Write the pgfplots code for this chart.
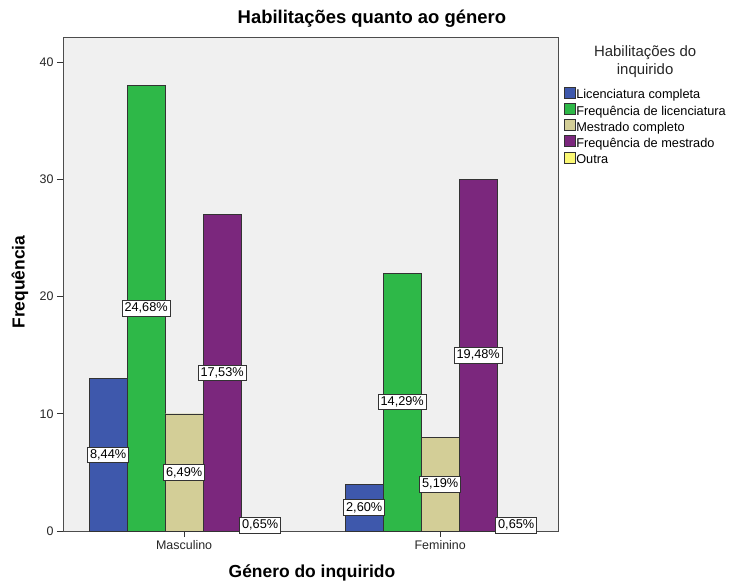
\documentclass[border=0pt]{standalone}
\usepackage{fontspec}
\setmainfont{Liberation Sans}
\usepackage{pgfplots}
\pgfplotsset{compat=1.18}
\definecolor{cBlue}{HTML}{3E58AC}
\definecolor{cGreen}{HTML}{2EB848}
\definecolor{cTan}{HTML}{D3CE97}
\definecolor{cPurple}{HTML}{7B277D}
\definecolor{cYellow}{HTML}{FBF873}
\definecolor{cBg}{HTML}{F0F0F0}
\begin{document}
\begin{tikzpicture}
\begin{axis}[
  at={(0,0)}, anchor=south west,
  scale only axis, width=495bp, height=494bp,
  xmin=-0.473, xmax=1.46, ymin=0, ymax=42.13,
  clip=false,
  ybar=0pt, bar width=38bp,
  axis background/.style={fill=cBg},
  axis line style={draw=black!70},
  tick align=outside, major tick length=6bp,
  xtick pos=bottom, ytick pos=left,
  xtick={0,1}, xticklabels={Masculino,Feminino},
  ytick={0,10,20,30,40},
  tick style={black!80, line width=0.6pt},
  ticklabel style={font=\fontsize{12.5}{14}\selectfont, text=black!85},
  /pgf/number format/assume math mode=true,
  title={Habilitações quanto ao género},
  title style={at={(axis description cs:0.624,1)}, anchor=south, yshift=0bp, font=\bfseries\fontsize{18.5}{21}\selectfont},
  xlabel={Género do inquirido},
  xlabel style={at={(axis description cs:0.503,0)}, anchor=base, yshift=-46bp, font=\bfseries\fontsize{17.5}{20}\selectfont},
  ylabel={Frequência},
  ylabel style={at={(axis description cs:0,0.504)}, anchor=center, yshift=43bp, font=\bfseries\fontsize{17.5}{20}\selectfont},
  point meta=explicit symbolic,
  visualization depends on=rawy \as \rawy,
  nodes near coords,
  every node near coord/.append style={anchor=center, fill=white, draw=black!80, line width=0.6pt,
     inner xsep=2.5bp, inner ysep=2.5bp, font=\fontsize{12.8}{14}\selectfont, shift={(axis direction cs:0,-\rawy/2)}},
  legend style={at={(1.006,0.904)}, anchor=north west, draw=none, fill=none,
     font=\fontsize{12.8}{14}\selectfont, row sep=0.8bp,
     nodes={inner sep=0.5bp, text height=9.5bp, text depth=2.8bp, anchor=west}},
  legend cell align=left,
  legend image code/.code={\draw[#1, draw=black!80, line width=0.6pt] (0bp,-2.5bp) rectangle (11bp,8.5bp);},
]
\addplot[fill=cBlue, draw=black!80] coordinates {(0,13) [8,44\%] (1,4) [2,60\%]};
\addplot[fill=cGreen, draw=black!80] coordinates {(0,38) [24,68\%] (1,22) [14,29\%]};
\addplot[fill=cTan, draw=black!80] coordinates {(0,10) [6,49\%] (1,8) [5,19\%]};
\addplot[fill=cPurple, draw=black!80] coordinates {(0,27) [17,53\%] (1,30) [19,48\%]};
\addplot[fill=cYellow, draw=black!80] coordinates {(0,1) [0,65\%] (1,1) [0,65\%]};
\legend{Licenciatura completa, Frequência de licenciatura, Mestrado completo, Frequência de mestrado, Outra}
\node[align=center, font=\fontsize{15}{18}\selectfont, text=black!85] at (rel axis cs:1.176,0.951) {Habilitações do\\inquirido};
\end{axis}
\pgfresetboundingbox
\path[use as bounding box] (-63bp,-51bp) rectangle (669bp,531bp);
\end{tikzpicture}
\end{document}
